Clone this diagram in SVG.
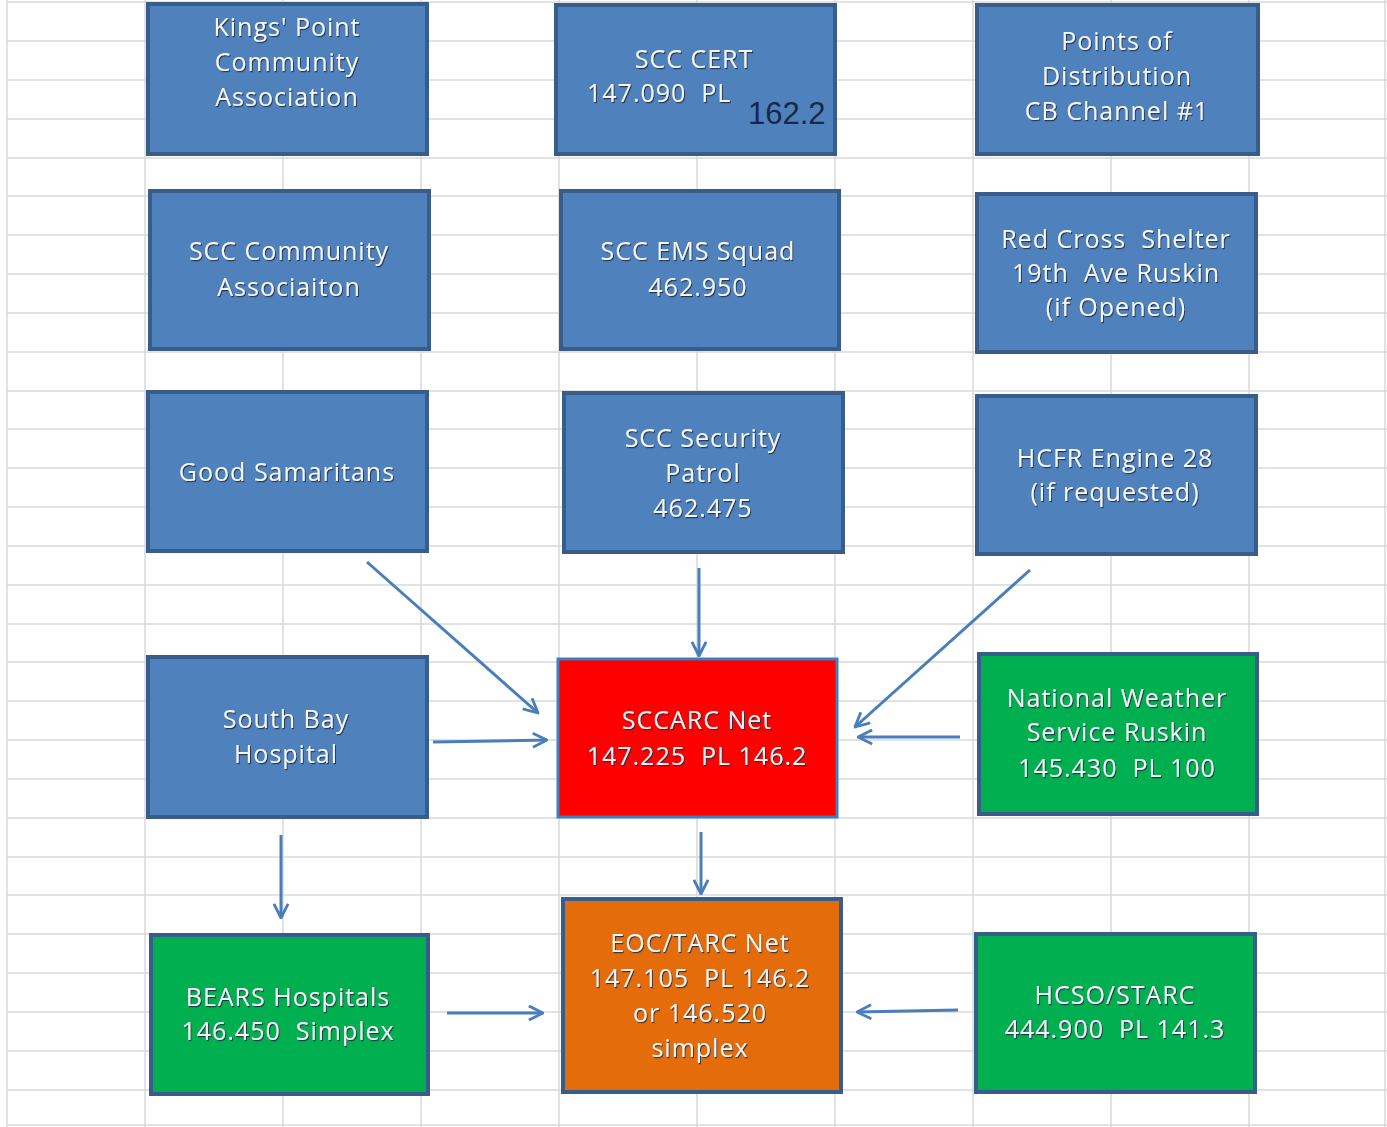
<svg xmlns="http://www.w3.org/2000/svg" width="1387" height="1127" viewBox="0 0 1387 1127">
<defs>
<style>
.grid line{stroke:#d6d8da;stroke-width:1.5}
.blue{fill:#4f81bd;stroke:#385d8a;stroke-width:4}
.green{fill:#00b050;stroke:#385d8a;stroke-width:4}
.red{fill:#ff0000;stroke:#3f7fc0;stroke-width:3}
.orange{fill:#e46c0a;stroke:#385d8a;stroke-width:4}
.t{font-family:"Open Sans","Liberation Sans",sans-serif;font-size:25px;letter-spacing:1px;fill:#f4f6f8;text-anchor:middle;white-space:pre;filter:url(#sh)}
.c line{stroke:#4a7ebb;stroke-width:3;fill:none;marker-end:url(#ah)}
</style>
<filter id="sh" x="-10%" y="-30%" width="120%" height="160%">
<feDropShadow dx="1" dy="1.2" stdDeviation="0.6" flood-color="#1b2b40" flood-opacity="0.85"/>
</filter>
<marker id="ah" viewBox="0 0 12 12" refX="11" refY="6" markerWidth="17" markerHeight="17" markerUnits="userSpaceOnUse" orient="auto">
<path d="M1,1 L11,6 L1,11" fill="none" stroke="#4a7ebb" stroke-width="2"/>
</marker>
</defs>
<rect width="1387" height="1127" fill="#ffffff"/>
<g class="grid">
<line x1="7" y1="0" x2="7" y2="1127"/><line x1="145" y1="0" x2="145" y2="1127"/><line x1="283" y1="0" x2="283" y2="1127"/><line x1="421" y1="0" x2="421" y2="1127"/><line x1="559" y1="0" x2="559" y2="1127"/><line x1="697" y1="0" x2="697" y2="1127"/><line x1="835" y1="0" x2="835" y2="1127"/><line x1="973" y1="0" x2="973" y2="1127"/><line x1="1111" y1="0" x2="1111" y2="1127"/><line x1="1249" y1="0" x2="1249" y2="1127"/><line x1="1385" y1="0" x2="1385" y2="1127"/>
<line x1="7" y1="2" x2="1387" y2="2"/><line x1="7" y1="41" x2="1387" y2="41"/><line x1="7" y1="80" x2="1387" y2="80"/><line x1="7" y1="119" x2="1387" y2="119"/><line x1="7" y1="158" x2="1387" y2="158"/><line x1="7" y1="196" x2="1387" y2="196"/><line x1="7" y1="235" x2="1387" y2="235"/><line x1="7" y1="274" x2="1387" y2="274"/><line x1="7" y1="313" x2="1387" y2="313"/><line x1="7" y1="352" x2="1387" y2="352"/><line x1="7" y1="391" x2="1387" y2="391"/><line x1="7" y1="429" x2="1387" y2="429"/><line x1="7" y1="468" x2="1387" y2="468"/><line x1="7" y1="507" x2="1387" y2="507"/><line x1="7" y1="546" x2="1387" y2="546"/><line x1="7" y1="585" x2="1387" y2="585"/><line x1="7" y1="624" x2="1387" y2="624"/><line x1="7" y1="662" x2="1387" y2="662"/><line x1="7" y1="701" x2="1387" y2="701"/><line x1="7" y1="740" x2="1387" y2="740"/><line x1="7" y1="779" x2="1387" y2="779"/><line x1="7" y1="818" x2="1387" y2="818"/><line x1="7" y1="857" x2="1387" y2="857"/><line x1="7" y1="895" x2="1387" y2="895"/><line x1="7" y1="934" x2="1387" y2="934"/><line x1="7" y1="973" x2="1387" y2="973"/><line x1="7" y1="1012" x2="1387" y2="1012"/><line x1="7" y1="1051" x2="1387" y2="1051"/><line x1="7" y1="1090" x2="1387" y2="1090"/><line x1="7" y1="1125" x2="1387" y2="1125"/>
</g>
<g id="kings-point">
<rect class="blue" x="148" y="4" width="279" height="150"/>
<text class="t" x="287" y="36">Kings' Point</text>
<text class="t" x="287" y="71">Community</text>
<text class="t" x="287" y="106">Association</text>
</g>
<g id="scc-cert">
<rect class="blue" x="556" y="5" width="279" height="149"/>
<text class="t" x="694" y="68">SCC CERT</text>
<text class="t" x="587" y="102" style="text-anchor:start">147.090  PL</text>
<text x="748" y="124" style="font-family:'Liberation Sans',Arial,sans-serif;font-size:31px;fill:#17284a">162.2</text>
</g>
<g id="points-of-distribution">
<rect class="blue" x="977" y="5" width="281" height="149"/>
<text class="t" x="1117" y="50">Points of</text>
<text class="t" x="1117" y="85">Distribution</text>
<text class="t" x="1117" y="120">CB Channel #1</text>
</g>
<g id="scc-community">
<rect class="blue" x="150" y="191" width="279" height="158"/>
<text class="t" x="289" y="260">SCC Community</text>
<text class="t" x="289" y="296">Associaiton</text>
</g>
<g id="scc-ems">
<rect class="blue" x="561" y="191" width="278" height="158"/>
<text class="t" x="698" y="260">SCC EMS Squad</text>
<text class="t" x="698" y="296">462.950</text>
</g>
<g id="red-cross">
<rect class="blue" x="977" y="194" width="279" height="158"/>
<text class="t" x="1116" y="248">Red Cross  Shelter</text>
<text class="t" x="1116" y="282">19th  Ave Ruskin</text>
<text class="t" x="1116" y="316">(if Opened)</text>
</g>
<g id="good-samaritans">
<rect class="blue" x="148" y="392" width="279" height="159"/>
<text class="t" x="287" y="481">Good Samaritans</text>
</g>
<g id="scc-security">
<rect class="blue" x="564" y="393" width="279" height="159"/>
<text class="t" x="703" y="447">SCC Security</text>
<text class="t" x="703" y="482">Patrol</text>
<text class="t" x="703" y="517">462.475</text>
</g>
<g id="hcfr">
<rect class="blue" x="977" y="396" width="279" height="158"/>
<text class="t" x="1115" y="467">HCFR Engine 28</text>
<text class="t" x="1115" y="501">(if requested)</text>
</g>
<g id="south-bay">
<rect class="blue" x="148" y="657" width="279" height="160"/>
<text class="t" x="286" y="728">South Bay</text>
<text class="t" x="286" y="763">Hospital</text>
</g>
<g id="sccarc">
<rect class="red" x="558" y="659" width="279" height="158"/>
<text class="t" x="697" y="729">SCCARC Net</text>
<text class="t" x="697" y="765">147.225  PL 146.2</text>
</g>
<g id="nws">
<rect class="green" x="979" y="654" width="278" height="160"/>
<text class="t" x="1117" y="707">National Weather</text>
<text class="t" x="1117" y="741">Service Ruskin</text>
<text class="t" x="1117" y="777">145.430  PL 100</text>
</g>
<g id="bears">
<rect class="green" x="151" y="935" width="277" height="159"/>
<text class="t" x="288" y="1006">BEARS Hospitals</text>
<text class="t" x="288" y="1040">146.450  Simplex</text>
</g>
<g id="eoc">
<rect class="orange" x="563" y="899" width="278" height="193"/>
<text class="t" x="700" y="952">EOC/TARC Net</text>
<text class="t" x="700" y="987">147.105  PL 146.2</text>
<text class="t" x="700" y="1022">or 146.520</text>
<text class="t" x="700" y="1057">simplex</text>
</g>
<g id="hcso">
<rect class="green" x="976" y="934" width="279" height="158"/>
<text class="t" x="1115" y="1004">HCSO/STARC</text>
<text class="t" x="1115" y="1038">444.900  PL 141.3</text>
</g>
<g class="c" id="connectors">
<line x1="367" y1="562" x2="538" y2="713"/>
<line x1="699" y1="568" x2="699" y2="656"/>
<line x1="1030" y1="570" x2="855" y2="727"/>
<line x1="433" y1="742" x2="547" y2="740"/>
<line x1="960" y1="737" x2="858" y2="737"/>
<line x1="281" y1="835" x2="281" y2="918"/>
<line x1="701" y1="832" x2="701" y2="894"/>
<line x1="447" y1="1013" x2="543" y2="1013"/>
<line x1="958" y1="1010" x2="857" y2="1012"/>
</g>
</svg>
